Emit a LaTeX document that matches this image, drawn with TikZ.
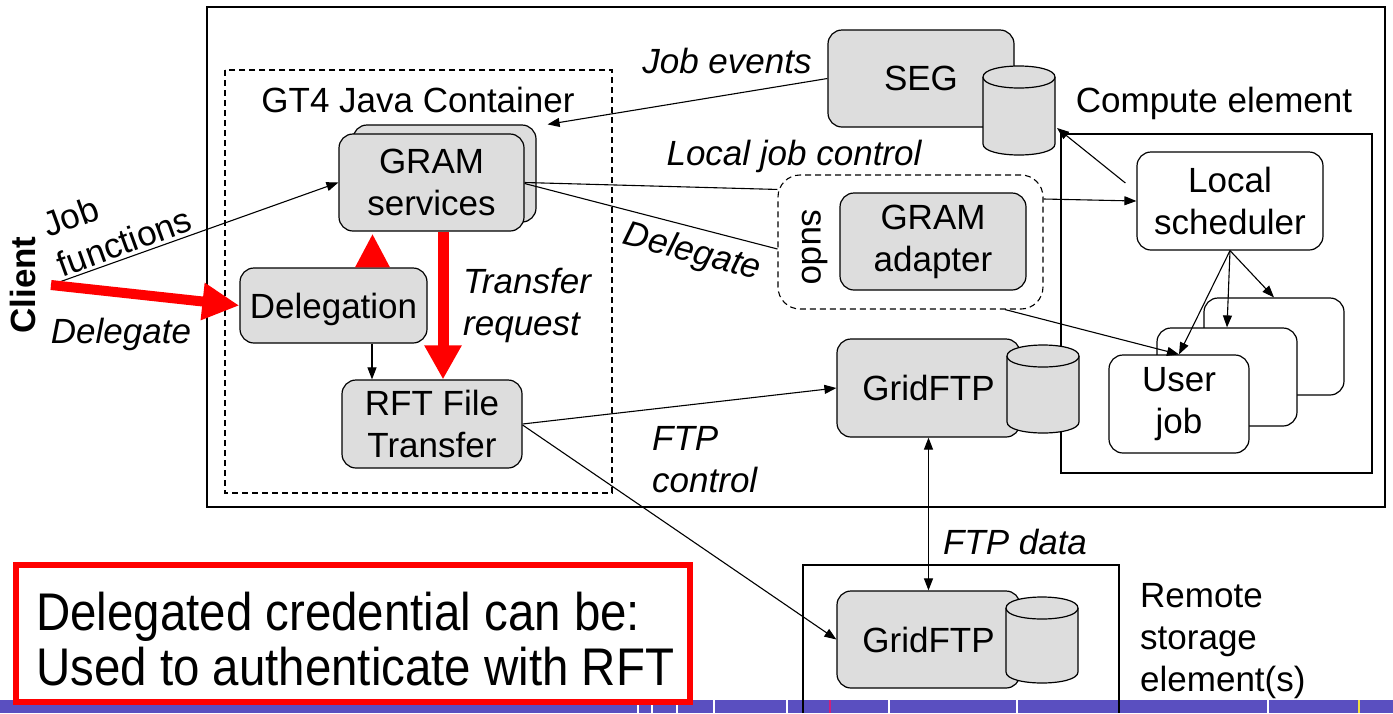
\documentclass[tikz,border=0pt]{standalone}
\usepackage{fontspec}
\setmainfont{Liberation Sans}
\newfontfamily\narrowfont[FakeStretch=0.895]{Liberation Sans}
\usetikzlibrary{arrows.meta,calc}
\definecolor{boxgray}{HTML}{DDDDDD}
\definecolor{stripcol}{HTML}{5A4FC0}
\definecolor{tickmag}{HTML}{D0207A}
\definecolor{tickyel}{HTML}{F0E040}
\newcommand\lblfont{\fontsize{35}{42}\selectfont}
\newcommand\drumshape[4]{%
  \draw[cylst] (#1,#3) -- (#1,#4) .. controls (#1,#4+14.67) and (#2,#4+14.67) .. (#2,#4) -- (#2,#3) .. controls (#2,#3-14.67) and (#1,#3-14.67) .. (#1,#3) -- cycle;
  \draw[cylst] (#1,#3) .. controls (#1,#3+14.67) and (#2,#3+14.67) .. (#2,#3);}
\begin{document}
\begin{tikzpicture}[x=1pt,y=-1pt,
  every node/.style={font=\lblfont, inner sep=0pt},
  box/.style={draw, fill=boxgray, rounded corners=14pt, line width=1.2pt, align=center},
  wbox/.style={box, fill=white},
  cylst/.style={draw, fill=boxgray, line width=1.2pt},
  frame/.style={draw, line width=1.3pt},
  dashbox/.style={draw, line width=1.1pt, dash pattern=on 6pt off 4pt},
  conn/.style={line width=1.1pt, -{Triangle[length=12pt,width=9pt]}},
  biconn/.style={line width=1.1pt, {Triangle[length=12pt,width=9pt]}-{Triangle[length=12pt,width=9pt]}},
  plainline/.style={line width=1.1pt},
  lbl/.style={font=\lblfont\itshape},
  redarrow/.style={red, line width=10pt, -{Triangle[length=37pt,width=35pt]}},
]
\useasboundingbox (0,0) rectangle (1393,713);
\fill[white] (0,0) rectangle (1393,713);

% frames
\draw[frame] (207,7) rectangle (1385,507);
\draw[dashbox] (225,70) rectangle (612,493);
\draw[frame] (1061,134) rectangle (1372,473);

\node (gt4lbl) at (418,100) {GT4 Java Container};
\node (complbl) at (1214,103) {Compute element};

% GT4 container nodes
\node[box, minimum width=183pt, minimum height=97pt] (gramback) at (444.5,173.5) {};
\node[box, minimum width=185pt, minimum height=97pt] (gram) at (431.5,182.5) {GRAM\\services};
\node[box, minimum width=187pt, minimum height=75pt, text depth=0pt] (deleg) at (333.5,305.5) {Delegation};
\node[box, minimum width=180pt, minimum height=88pt] (rft) at (432,424) {RFT File\\Transfer};

% SEG
\node[box, minimum width=186pt, minimum height=97pt] (seg) at (921,78.5) {SEG};
\drumshape{983}{1055}{77}{144}
\coordinate (segcylse) at (1057,128);

% sudo / adapter
\node[dashbox, rounded corners=22pt, minimum width=265pt, minimum height=134pt] (sudo) at (910.5,242) {};
\node[box, minimum width=186pt, minimum height=97pt] (adapter) at (933,241.5) {GRAM\\adapter};
\node[rotate=-90] (sudolbl) at (815,247) {sudo};

% compute element contents
\node[wbox, minimum width=186pt, minimum height=98pt] (sched) at (1230,201) {Local\\scheduler};
\node[wbox, minimum width=140pt, minimum height=97pt] (uj3) at (1274,346.5) {};
\node[wbox, minimum width=140pt, minimum height=98pt] (uj2) at (1227,377) {};
\node[wbox, minimum width=140pt, minimum height=98pt] (uj1) at (1179,404) {User\\job};

% GridFTP top
\node[box, minimum width=183pt, minimum height=98pt] (gftp1) at (928.5,388) {GridFTP};
\drumshape{1007}{1079}{356}{422}

% bottom strip
\fill[stripcol] (0,700) rectangle (1393,713);
\foreach \tx in {638,652,677,714,787,889,1017,1268}
  \draw[white, line width=1.2pt] (\tx,700) -- (\tx,713);
\draw[tickmag, line width=1.5pt] (830,700) -- (830,713);
\draw[tickyel, line width=2pt] (1359,700) -- (1359,713);

% remote storage element
\draw[frame] (803,713) -- (803,565) -- (1119,565) -- (1119,713);
\node[box, minimum width=183pt, minimum height=97pt] (gftp2) at (928.5,639.5) {GridFTP};
\drumshape{1006}{1078}{608}{672}
\node[align=left, anchor=west] (remlbl) at (1140,641) {Remote\\storage\\element(s)};

% client
\node[rotate=90, font=\lblfont\bfseries] (client) at (23,285) {Client};
\coordinate (clientpt) at (51,285);
\node[rotate=20, align=left] (jflbl) at (117,222) {Job\\functions};
\node[lbl] (dellbl1) at (121,334) {Delegate};

% connectors
\draw[conn] (clientpt) -- (gram.west);
\draw[redarrow] (clientpt) -- (deleg.west);
\fill[red] ($(deleg.north)+(21.5,0)$) -- ($(deleg.north)+(56.5,0)$) -- ($(deleg.north)+(39,-33)$) -- cycle;
\draw[red, line width=11pt, -{Triangle[length=34pt,width=35pt]}] ([xshift=11.5pt]gram.south) -- ([xshift=11pt]rft.north);
\draw[conn] ([xshift=38.5pt]deleg.south) -- ([xshift=38.5pt]deleg.south |- rft.north);
\draw[conn] (seg.west) -- ([xshift=11pt]gramback.north east);
\draw[plainline] (gram.east) -- ([yshift=-15pt]sudo.north west);
\draw[plainline] ([yshift=-1pt]gram.east) -- ([yshift=-7pt]sudo.west);
\draw[conn] ([yshift=43pt]sudo.east) -- (sched.west);
\draw[conn] ([xshift=94.5pt]sudo.south) -- (uj1.north);
\draw[conn] ([xshift=-11pt,yshift=18pt]sched.west) -- (segcylse);
\draw[conn] (sched.south) -- (uj1.north);
\draw[conn] (sched.south) -- (uj2.north);
\draw[conn] (sched.south) -- (uj3.north);
\draw[conn] (rft.east) -- (gftp1.west);
\draw[conn] ([yshift=-1pt]rft.east) -- (gftp2.west);
\draw[biconn] (gftp1.south) -- (gftp2.north);

% labels
\node[lbl] (jelbl) at (727,61) {Job events};
\node[lbl] (ljclbl) at (794,156) {Local job control};
\node[lbl, rotate=-15] (dellbl2) at (692,253) {Delegate};
\node[lbl, align=left, anchor=west] (trlbl) at (463,305) {Transfer\\request};
\node[lbl, align=left, anchor=west] (ftpclbl) at (652,460) {FTP\\control};
\node[lbl] (ftpdlbl) at (1015,542) {FTP data};

% note box
\draw[red, line width=5.5pt] (16,565) rectangle (690,702);
\node[font=\narrowfont\fontsize{53}{55}\selectfont, align=left, anchor=north west] (note) at (36,592) {Delegated credential can be:\\Used to authenticate with RFT};
\end{tikzpicture}
\end{document}
